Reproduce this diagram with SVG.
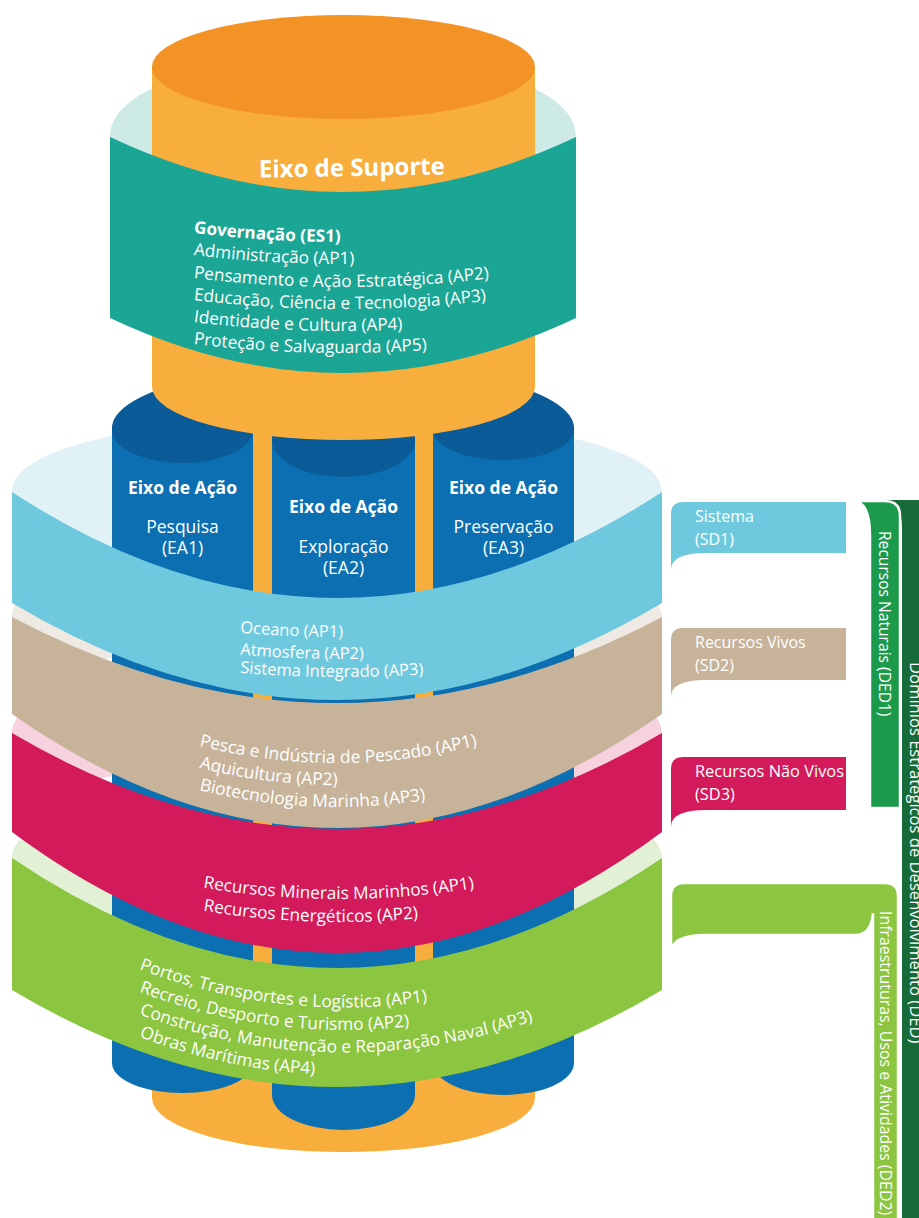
<svg xmlns="http://www.w3.org/2000/svg" width="919" height="1218" viewBox="0 0 919 1218">
<style>
.t{font-family:"Open Sans","Liberation Sans",sans-serif;fill:#fff;font-size:16px;font-weight:500}
.b{font-weight:700}
.ea{font-size:17.5px;text-anchor:middle}
.lb{font-size:16px}
.top{font-size:17.2px}
.sd1{font-size:16.5px}
.sd2{font-size:17.4px}
.sd3{font-size:17.2px}
.gr{font-size:17.3px}
.orB{fill:#f8ae3c}.orT{fill:#f39325}
.blB{fill:#0b6fb1}.blT{fill:#0b5b99}
</style>
<defs>
<path id="p0" d="M143,226 Q343,258 543,226"/>
<path id="p1" d="M143,248 Q343,280 543,248"/>
<path id="p2" d="M143,271 Q343,303 543,271"/>
<path id="p3" d="M143,293 Q343,325 543,293"/>
<path id="p4" d="M143,315 Q343,347 543,315"/>
<path id="p5" d="M143,337 Q343,369 543,337"/>
<path id="q0" d="M240,632.8 Q343,641.2 446,632.8"/>
<path id="q1" d="M240,654.8 Q343,663.2 446,654.8"/>
<path id="q2" d="M240,672.8 Q343,681.2 446,672.8"/>
<path id="r0" d="M199,745.9 Q359.5,785.8 520,732.9"/>
<path id="r1" d="M199,767.9 Q359.5,807.8 520,754.9"/>
<path id="r2" d="M199,789.9 Q359.5,829.8 520,776.9"/>
<path id="s0" d="M203,887.7 Q340,910.3 477,887.7"/>
<path id="s1" d="M203,910.7 Q340,933.3 477,910.7"/>
<path id="g0" d="M139,969.3 Q345,1045.7 551,969.3"/>
<path id="g1" d="M139,991.8 Q345,1068.2 551,991.8"/>
<path id="g2" d="M139,1014.3 Q345,1090.7 551,1014.3"/>
<path id="g3" d="M139,1036.8 Q345,1113.2 551,1036.8"/>
</defs>
<rect width="919" height="1218" fill="#fff"/>

<g id="ring-backs">
<path d="M110,137 C110,30 576,30 576,137 L576,318 C576,211 110,211 110,318 Z" fill="#cdeae7"/>
<path d="M12,492 C12,392 662,392 662,492 L662,603 C662,503 12,503 12,603 Z" fill="#e1f2f7"/>
<path d="M12,617 C12,517 662,517 662,617 L662,714 C662,614 12,614 12,714 Z" fill="#eee9e2"/>
<path d="M12,733 C12,633 662,633 662,733 L662,832 C662,732 12,732 12,832 Z" fill="#f6d2df"/>
<path d="M12,858 C12,758 662,758 662,858 L662,990 C662,890 12,890 12,990 Z" fill="#e2f0d6"/>
</g>

<g id="pillars">
<rect class="orB" x="152" y="400" width="383" height="698"/>
<ellipse class="orB" cx="343.5" cy="1098" rx="191.5" ry="54"/>
<path class="blT" d="M112,428 A231,64 0 0 1 574,428 Z"/>
<g id="col-ea1">
<rect class="blB" x="112" y="428" width="141" height="635"/>
<ellipse class="blB" cx="182.5" cy="1063" rx="70.5" ry="30"/>
<ellipse class="blT" cx="182.5" cy="430" rx="70.5" ry="33"/>
</g>
<g id="col-ea2">
<rect class="blB" x="272" y="428" width="143" height="667"/>
<ellipse class="blB" cx="343.5" cy="1095" rx="71.5" ry="35"/>
<ellipse class="blT" cx="343.5" cy="440" rx="71.5" ry="37"/>
</g>
<g id="col-ea3">
<rect class="blB" x="433" y="428" width="141" height="635"/>
<ellipse class="blB" cx="503.5" cy="1063" rx="70.5" ry="32"/>
<ellipse class="blT" cx="503.5" cy="430" rx="70.5" ry="30"/>
</g>
<g id="support-axis">
<rect class="orB" x="152" y="67" width="383" height="320"/>
<ellipse class="orB" cx="343.5" cy="387" rx="191.5" ry="53"/>
<ellipse class="orT" cx="343.5" cy="67" rx="191.5" ry="52"/>
</g>
</g>

<g id="ring-es1">
<path d="M110,137 Q343,247 576,137 L576,318 Q343,428 110,318 Z" fill="#1aa595"/>
<text class="t b" x="352" y="176" style="font-size:24px" text-anchor="middle" transform="rotate(-1 352 176)">Eixo de Suporte</text>
<text class="t b top"><textPath href="#p0" startOffset="51">Governação (ES1)</textPath></text>
<text class="t top"><textPath href="#p1" startOffset="51">Administração (AP1)</textPath></text>
<text class="t top"><textPath href="#p2" startOffset="51">Pensamento e Ação Estratégica (AP2)</textPath></text>
<text class="t top"><textPath href="#p3" startOffset="51">Educação, Ciência e Tecnologia (AP3)</textPath></text>
<text class="t top"><textPath href="#p4" startOffset="51">Identidade e Cultura (AP4)</textPath></text>
<text class="t top"><textPath href="#p5" startOffset="51">Proteção e Salvaguarda (AP5)</textPath></text>
</g>

<g id="ea-labels">
<text class="t b ea" x="182.5" y="494">Eixo de Ação</text>
<text class="t ea" x="182.5" y="533">Pesquisa</text>
<text class="t ea" x="182.5" y="554">(EA1)</text>
<text class="t b ea" x="343.5" y="513">Eixo de Ação</text>
<text class="t ea" x="343.5" y="553">Exploração</text>
<text class="t ea" x="343.5" y="574">(EA2)</text>
<text class="t b ea" x="503.5" y="494">Eixo de Ação</text>
<text class="t ea" x="503.5" y="533">Preservação</text>
<text class="t ea" x="503.5" y="554">(EA3)</text>
</g>

<g id="ring-sd1">
<path d="M12,492 Q337,704 662,492 L662,603 Q337,797 12,603 Z" fill="#6fc9de"/>
<text class="t sd1"><textPath href="#q0">Oceano (AP1)</textPath></text>
<text class="t sd1"><textPath href="#q1">Atmosfera (AP2)</textPath></text>
<text class="t sd1"><textPath href="#q2">Sistema Integrado (AP3)</textPath></text>
</g>
<g id="ring-sd2">
<path d="M12,617 Q337,789 662,617 L662,714 Q337,942 12,714 Z" fill="#c6b39a"/>
<text class="t sd2"><textPath href="#r0">Pesca e Indústria de Pescado (AP1)</textPath></text>
<text class="t sd2"><textPath href="#r1">Aquicultura (AP2)</textPath></text>
<text class="t sd2"><textPath href="#r2">Biotecnologia Marinha (AP3)</textPath></text>
</g>
<g id="ring-sd3">
<path d="M12,733 Q337,925 662,733 L662,832 Q337,1074 12,832 Z" fill="#d31a5a"/>
<text class="t sd3"><textPath href="#s0">Recursos Minerais Marinhos (AP1)</textPath></text>
<text class="t sd3"><textPath href="#s1">Recursos Energéticos (AP2)</textPath></text>
</g>
<g id="ring-ded2">
<path d="M12,858 Q337,1078 662,858 L662,990 Q337,1184 12,990 Z" fill="#8cc540"/>
<text class="t gr"><textPath href="#g0">Portos, Transportes e Logística (AP1)</textPath></text>
<text class="t gr"><textPath href="#g1">Recreio, Desporto e Turismo (AP2)</textPath></text>
<text class="t gr"><textPath href="#g2">Construção, Manutenção e Reparação Naval (AP3)</textPath></text>
<text class="t gr"><textPath href="#g3">Obras Marítimas (AP4)</textPath></text>
</g>

<g id="ded">
<path d="M882,500 L919,500 L919,1218 L902,1218 L902,528 Q902,502 882,500 Z" fill="#176b39"/>
<text class="t lb" style="font-size:16.6px" transform="translate(910,662) rotate(90)">Domínios Estratégicos de Desenvolvimento (DED)</text>
</g>
<g id="ded1">
<path d="M853,501 L885,501 Q900,501 900,516 L900,808 L870,808 L870,536 Q870,501 853,501 Z" fill="#1c9a4b" stroke="#fff" stroke-width="2.5"/>
<text class="t lb" style="font-size:15.6px" transform="translate(879,531) rotate(90)">Recursos Naturais (DED1)</text>
</g>
<g id="ded2">
<path d="M671,896 Q671,883 684,883 L885,883 Q898,883 898,896 L898,1220 L873,1220 L873,913 Q871,935 855,935 L706,935 Q671,935 671,953 Z" fill="#8cc540" stroke="#fff" stroke-width="2.5"/>
<text class="t lb" style="font-size:15.9px" transform="translate(880,911) rotate(90)">Infraestruturas, Usos e Atividades (DED2)</text>
</g>
<g id="sd1">
<path d="M671,514 Q671,502 683,502 L846,502 L846,553 L706,553 Q671,553 671,570 Z" fill="#6fc9de"/>
<text class="t lb" x="695" y="522">Sistema</text>
<text class="t lb" x="695" y="545">(SD1)</text>
</g>
<g id="sd2">
<path d="M671,640 Q671,628 683,628 L846,628 L846,680 L706,680 Q671,680 671,697 Z" fill="#c6b39a"/>
<text class="t lb" x="695" y="648">Recursos Vivos</text>
<text class="t lb" x="695" y="671">(SD2)</text>
</g>
<g id="sd3">
<path d="M671,769 Q671,757 683,757 L846,757 L846,810 L706,810 Q671,810 671,827 Z" fill="#d31a5a"/>
<text class="t lb" style="font-size:16.4px" x="695" y="777">Recursos Não Vivos</text>
<text class="t lb" style="font-size:16.4px" x="695" y="800">(SD3)</text>
</g>
</svg>
